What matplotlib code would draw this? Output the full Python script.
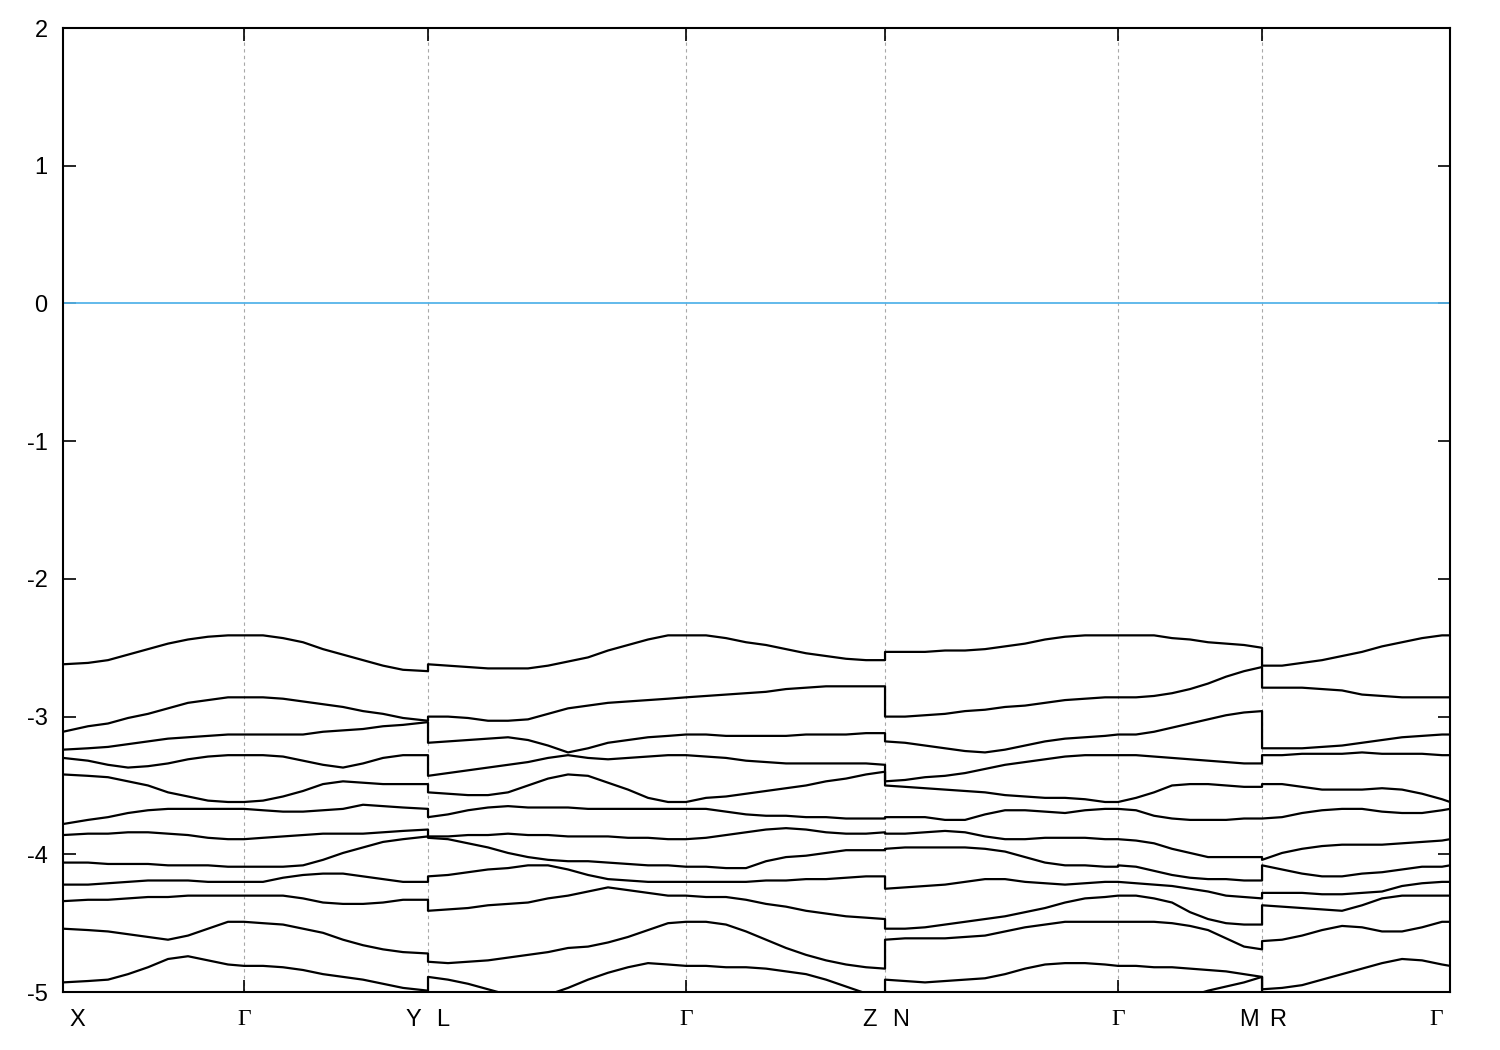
import numpy as np
import matplotlib.pyplot as plt
from matplotlib import transforms

'''
Band structure along X-G-Y | L-G-Z | N-G-M | R-G, energies in eV
'''

# high-symmetry points along the k-path
sym_k = [0.0, 0.181, 0.365, 0.623, 0.822, 1.055, 1.199, 1.387]
label_k = [0.014, 0.181, 0.350, 0.380, 0.623, 0.806, 0.838, 1.055, 1.186, 1.215, 1.373]
label_txt = ["X", "Γ", "Y", "L", "Γ", "Z", "N", "Γ", "M", "R", "Γ"]

# X -> Gamma
k1 = [0.0, 0.025, 0.045, 0.065, 0.085, 0.105, 0.125, 0.145, 0.165, 0.181]
e1 = [
    [-2.62, -2.61, -2.59, -2.55, -2.51, -2.47, -2.44, -2.42, -2.41, -2.41],
    [-3.11, -3.07, -3.05, -3.01, -2.98, -2.94, -2.90, -2.88, -2.86, -2.86],
    [-3.24, -3.23, -3.22, -3.20, -3.18, -3.16, -3.15, -3.14, -3.13, -3.13],
    [-3.30, -3.32, -3.35, -3.37, -3.36, -3.34, -3.31, -3.29, -3.28, -3.28],
    [-3.42, -3.43, -3.44, -3.47, -3.50, -3.55, -3.58, -3.61, -3.62, -3.62],
    [-3.78, -3.75, -3.73, -3.70, -3.68, -3.67, -3.67, -3.67, -3.67, -3.67],
    [-3.86, -3.85, -3.85, -3.84, -3.84, -3.85, -3.86, -3.88, -3.89, -3.89],
    [-4.06, -4.06, -4.07, -4.07, -4.07, -4.08, -4.08, -4.08, -4.09, -4.09],
    [-4.22, -4.22, -4.21, -4.20, -4.19, -4.19, -4.19, -4.20, -4.20, -4.20],
    [-4.34, -4.33, -4.33, -4.32, -4.31, -4.31, -4.30, -4.30, -4.30, -4.30],
    [-4.54, -4.55, -4.56, -4.58, -4.60, -4.62, -4.59, -4.54, -4.49, -4.49],
    [-4.93, -4.92, -4.91, -4.87, -4.82, -4.76, -4.74, -4.77, -4.80, -4.81],
]

# Gamma -> Y
k2 = [0.181, 0.200, 0.220, 0.240, 0.260, 0.280, 0.300, 0.320, 0.340, 0.365]
e2 = [
    [-2.41, -2.41, -2.43, -2.46, -2.51, -2.55, -2.59, -2.63, -2.66, -2.67],
    [-2.86, -2.86, -2.87, -2.89, -2.91, -2.93, -2.96, -2.98, -3.01, -3.03],
    [-3.13, -3.13, -3.13, -3.13, -3.11, -3.10, -3.09, -3.07, -3.06, -3.04],
    [-3.28, -3.28, -3.29, -3.32, -3.35, -3.37, -3.34, -3.30, -3.28, -3.28],
    [-3.62, -3.61, -3.58, -3.54, -3.49, -3.47, -3.48, -3.49, -3.49, -3.49],
    [-3.67, -3.68, -3.69, -3.69, -3.68, -3.67, -3.64, -3.65, -3.66, -3.67],
    [-3.89, -3.88, -3.87, -3.86, -3.85, -3.85, -3.85, -3.84, -3.83, -3.82],
    [-4.09, -4.09, -4.09, -4.08, -4.04, -3.99, -3.95, -3.91, -3.89, -3.87],
    [-4.20, -4.20, -4.17, -4.15, -4.14, -4.14, -4.16, -4.18, -4.20, -4.20],
    [-4.30, -4.30, -4.30, -4.32, -4.35, -4.36, -4.36, -4.35, -4.33, -4.33],
    [-4.49, -4.50, -4.51, -4.54, -4.57, -4.62, -4.66, -4.69, -4.71, -4.72],
    [-4.81, -4.81, -4.82, -4.84, -4.87, -4.89, -4.91, -4.94, -4.97, -4.99],
]

# L -> Gamma
k3 = [0.365, 0.385, 0.405, 0.425, 0.445, 0.465, 0.485, 0.505, 0.525, 0.545, 0.565, 0.585, 0.605, 0.623]
e3 = [
    [-2.62, -2.63, -2.64, -2.65, -2.65, -2.65, -2.63, -2.60, -2.57, -2.52, -2.48, -2.44, -2.41, -2.41],
    [-3.00, -3.00, -3.01, -3.03, -3.03, -3.02, -2.98, -2.94, -2.92, -2.90, -2.89, -2.88, -2.87, -2.86],
    [-3.19, -3.18, -3.17, -3.16, -3.15, -3.17, -3.21, -3.26, -3.23, -3.19, -3.17, -3.15, -3.14, -3.13],
    [-3.43, -3.41, -3.39, -3.37, -3.35, -3.33, -3.30, -3.28, -3.30, -3.31, -3.30, -3.29, -3.28, -3.28],
    [-3.55, -3.56, -3.57, -3.57, -3.55, -3.50, -3.45, -3.42, -3.43, -3.48, -3.53, -3.59, -3.62, -3.62],
    [-3.73, -3.71, -3.68, -3.66, -3.65, -3.66, -3.66, -3.66, -3.67, -3.67, -3.67, -3.67, -3.67, -3.67],
    [-3.87, -3.87, -3.86, -3.86, -3.85, -3.86, -3.86, -3.87, -3.87, -3.87, -3.88, -3.88, -3.89, -3.89],
    [-3.88, -3.89, -3.92, -3.95, -3.99, -4.02, -4.04, -4.05, -4.05, -4.06, -4.07, -4.08, -4.08, -4.09],
    [-4.16, -4.15, -4.13, -4.11, -4.10, -4.08, -4.08, -4.11, -4.15, -4.18, -4.19, -4.20, -4.20, -4.20],
    [-4.41, -4.40, -4.39, -4.37, -4.36, -4.35, -4.32, -4.30, -4.27, -4.24, -4.26, -4.28, -4.30, -4.30],
    [-4.78, -4.79, -4.78, -4.77, -4.75, -4.73, -4.71, -4.68, -4.67, -4.64, -4.60, -4.55, -4.50, -4.49],
    [-4.89, -4.91, -4.94, -4.98, -5.02, -5.05, -5.02, -4.97, -4.91, -4.86, -4.82, -4.79, -4.80, -4.81],
]

# Gamma -> Z
k4 = [0.623, 0.643, 0.663, 0.683, 0.703, 0.723, 0.743, 0.763, 0.783, 0.803, 0.822]
e4 = [
    [-2.41, -2.41, -2.43, -2.46, -2.48, -2.51, -2.54, -2.56, -2.58, -2.59, -2.59],
    [-2.86, -2.85, -2.84, -2.83, -2.82, -2.80, -2.79, -2.78, -2.78, -2.78, -2.78],
    [-3.13, -3.13, -3.14, -3.14, -3.14, -3.14, -3.13, -3.13, -3.13, -3.12, -3.12],
    [-3.28, -3.29, -3.30, -3.32, -3.33, -3.34, -3.34, -3.34, -3.34, -3.34, -3.35],
    [-3.62, -3.59, -3.58, -3.56, -3.54, -3.52, -3.50, -3.47, -3.45, -3.42, -3.40],
    [-3.67, -3.67, -3.69, -3.71, -3.72, -3.72, -3.73, -3.73, -3.74, -3.74, -3.74],
    [-3.89, -3.88, -3.86, -3.84, -3.82, -3.81, -3.82, -3.84, -3.85, -3.85, -3.84],
    [-4.09, -4.09, -4.10, -4.10, -4.05, -4.02, -4.01, -3.99, -3.97, -3.97, -3.97],
    [-4.20, -4.20, -4.20, -4.20, -4.19, -4.19, -4.18, -4.18, -4.17, -4.16, -4.16],
    [-4.30, -4.31, -4.31, -4.33, -4.36, -4.38, -4.41, -4.43, -4.45, -4.46, -4.47],
    [-4.49, -4.49, -4.51, -4.56, -4.62, -4.68, -4.73, -4.77, -4.80, -4.82, -4.83],
    [-4.81, -4.81, -4.82, -4.82, -4.83, -4.85, -4.87, -4.91, -4.96, -5.01, -5.06],
]

# N -> Gamma
k5 = [0.822, 0.842, 0.862, 0.882, 0.902, 0.922, 0.942, 0.962, 0.982, 1.002, 1.022, 1.042, 1.055]
e5 = [
    [-2.53, -2.53, -2.53, -2.52, -2.52, -2.51, -2.49, -2.47, -2.44, -2.42, -2.41, -2.41, -2.41],
    [-3.00, -3.00, -2.99, -2.98, -2.96, -2.95, -2.93, -2.92, -2.90, -2.88, -2.87, -2.86, -2.86],
    [-3.18, -3.19, -3.21, -3.23, -3.25, -3.26, -3.24, -3.21, -3.18, -3.16, -3.15, -3.14, -3.13],
    [-3.47, -3.46, -3.44, -3.43, -3.41, -3.38, -3.35, -3.33, -3.31, -3.29, -3.28, -3.28, -3.28],
    [-3.50, -3.51, -3.52, -3.53, -3.54, -3.55, -3.57, -3.58, -3.59, -3.59, -3.60, -3.62, -3.62],
    [-3.73, -3.73, -3.73, -3.75, -3.75, -3.71, -3.68, -3.68, -3.69, -3.70, -3.68, -3.67, -3.67],
    [-3.85, -3.85, -3.84, -3.83, -3.84, -3.87, -3.89, -3.89, -3.88, -3.88, -3.88, -3.89, -3.89],
    [-3.96, -3.95, -3.95, -3.95, -3.95, -3.96, -3.98, -4.02, -4.06, -4.08, -4.08, -4.09, -4.09],
    [-4.25, -4.24, -4.23, -4.22, -4.20, -4.18, -4.18, -4.20, -4.21, -4.22, -4.21, -4.20, -4.20],
    [-4.54, -4.54, -4.53, -4.51, -4.49, -4.47, -4.45, -4.42, -4.39, -4.35, -4.32, -4.31, -4.30],
    [-4.62, -4.61, -4.61, -4.61, -4.60, -4.59, -4.56, -4.53, -4.51, -4.49, -4.49, -4.49, -4.49],
    [-4.91, -4.92, -4.93, -4.92, -4.91, -4.90, -4.87, -4.83, -4.80, -4.79, -4.79, -4.80, -4.81],
]

# Gamma -> M (one more band comes up from below -5 here)
k6 = [1.055, 1.073, 1.091, 1.109, 1.127, 1.145, 1.163, 1.181, 1.199]
e6 = [
    [-2.41, -2.41, -2.41, -2.43, -2.44, -2.46, -2.47, -2.48, -2.50],
    [-2.86, -2.86, -2.85, -2.83, -2.80, -2.76, -2.71, -2.67, -2.64],
    [-3.13, -3.13, -3.11, -3.08, -3.05, -3.02, -2.99, -2.97, -2.96],
    [-3.28, -3.28, -3.29, -3.30, -3.31, -3.32, -3.33, -3.34, -3.34],
    [-3.62, -3.59, -3.55, -3.50, -3.49, -3.49, -3.50, -3.51, -3.51],
    [-3.67, -3.68, -3.72, -3.74, -3.75, -3.75, -3.75, -3.74, -3.74],
    [-3.89, -3.90, -3.92, -3.96, -3.99, -4.02, -4.02, -4.02, -4.02],
    [-4.08, -4.09, -4.12, -4.15, -4.17, -4.18, -4.18, -4.19, -4.19],
    [-4.20, -4.21, -4.22, -4.23, -4.25, -4.27, -4.30, -4.31, -4.32],
    [-4.30, -4.30, -4.32, -4.35, -4.42, -4.47, -4.50, -4.51, -4.51],
    [-4.49, -4.49, -4.49, -4.50, -4.52, -4.55, -4.61, -4.67, -4.69],
    [-4.81, -4.81, -4.82, -4.82, -4.83, -4.84, -4.85, -4.87, -4.89],
    [-5.16, -5.14, -5.12, -5.08, -5.03, -4.99, -4.96, -4.93, -4.89],
]

# R -> Gamma
k7 = [1.199, 1.219, 1.239, 1.259, 1.279, 1.299, 1.319, 1.339, 1.359, 1.379, 1.387]
e7 = [
    [-2.63, -2.63, -2.61, -2.59, -2.56, -2.53, -2.49, -2.46, -2.43, -2.41, -2.41],
    [-2.79, -2.79, -2.79, -2.80, -2.81, -2.84, -2.85, -2.86, -2.86, -2.86, -2.86],
    [-3.23, -3.23, -3.23, -3.22, -3.21, -3.19, -3.17, -3.15, -3.14, -3.13, -3.13],
    [-3.28, -3.28, -3.27, -3.27, -3.27, -3.26, -3.27, -3.27, -3.27, -3.28, -3.28],
    [-3.49, -3.49, -3.51, -3.53, -3.53, -3.53, -3.52, -3.53, -3.56, -3.60, -3.62],
    [-3.74, -3.73, -3.70, -3.68, -3.67, -3.67, -3.69, -3.70, -3.70, -3.68, -3.67],
    [-4.04, -3.99, -3.96, -3.94, -3.93, -3.93, -3.93, -3.92, -3.91, -3.90, -3.89],
    [-4.08, -4.11, -4.14, -4.16, -4.16, -4.14, -4.13, -4.11, -4.09, -4.09, -4.08],
    [-4.28, -4.28, -4.28, -4.29, -4.29, -4.28, -4.27, -4.23, -4.21, -4.20, -4.20],
    [-4.37, -4.38, -4.39, -4.40, -4.41, -4.37, -4.32, -4.30, -4.30, -4.30, -4.30],
    [-4.63, -4.62, -4.59, -4.55, -4.52, -4.53, -4.56, -4.56, -4.53, -4.49, -4.49],
    [-4.98, -4.97, -4.95, -4.91, -4.87, -4.83, -4.79, -4.76, -4.77, -4.80, -4.81],
    [-5.12, -5.15, -5.19, -5.22, -5.25, -5.27, -5.28, -5.28, -5.27, -5.26, -5.25],
]

segments = [(k1, e1), (k2, e2), (k3, e3), (k4, e4), (k5, e5), (k6, e6), (k7, e7)]
nbands = max(len(e) for k, e in segments)

plt.rcParams['font.family'] = ['Liberation Sans', 'DejaVu Sans']
plt.rcParams['axes.unicode_minus'] = False
fig = plt.figure(figsize=(15, 10.5), dpi=100)
ax = fig.add_axes([0.042, 0.0552, 0.9247, 0.9181])

# dashed lines at the high-symmetry points
for kk in sym_k[1:-1]:
    ax.axvline(kk, color='#a8a8a8', linestyle=(0, (3, 3)), linewidth=0.8, zorder=1)

# Fermi level
ax.axhline(0, color='#56b4e9', linewidth=1.3, zorder=2)

# each band is one continuous line through all segments (jumps at Y|L, Z|N, M|R)
for b in range(nbands):
    xs, ys = [], []
    for k, e in segments:
        if b < len(e):
            xs += k
            ys += e[b]
    ax.plot(xs, ys, color='black', linewidth=1.6, solid_joinstyle='round', zorder=3)

ax.set_xlim(sym_k[0], sym_k[-1])
ax.set_ylim(-5, 2)
ax.set_yticks(np.arange(-5, 3, 1))
ax.set_xticks(sym_k)
ax.set_xticklabels([])
ax.tick_params(axis='both', direction='in', length=9, width=1.2,
               top=True, right=True, labelsize=17, pad=11)
for s in ax.spines.values():
    s.set_linewidth(1.5)

trans = transforms.blended_transform_factory(ax.transData, ax.transAxes)
for kk, t in zip(label_k, label_txt):
    fam = ['Liberation Serif', 'DejaVu Serif'] if t == "Γ" else ['Liberation Sans', 'DejaVu Sans']
    ax.text(kk, -0.029, t, transform=trans, ha='center', va='center',
            fontsize=17, family=fam)

plt.savefig('out.png', dpi=100)
